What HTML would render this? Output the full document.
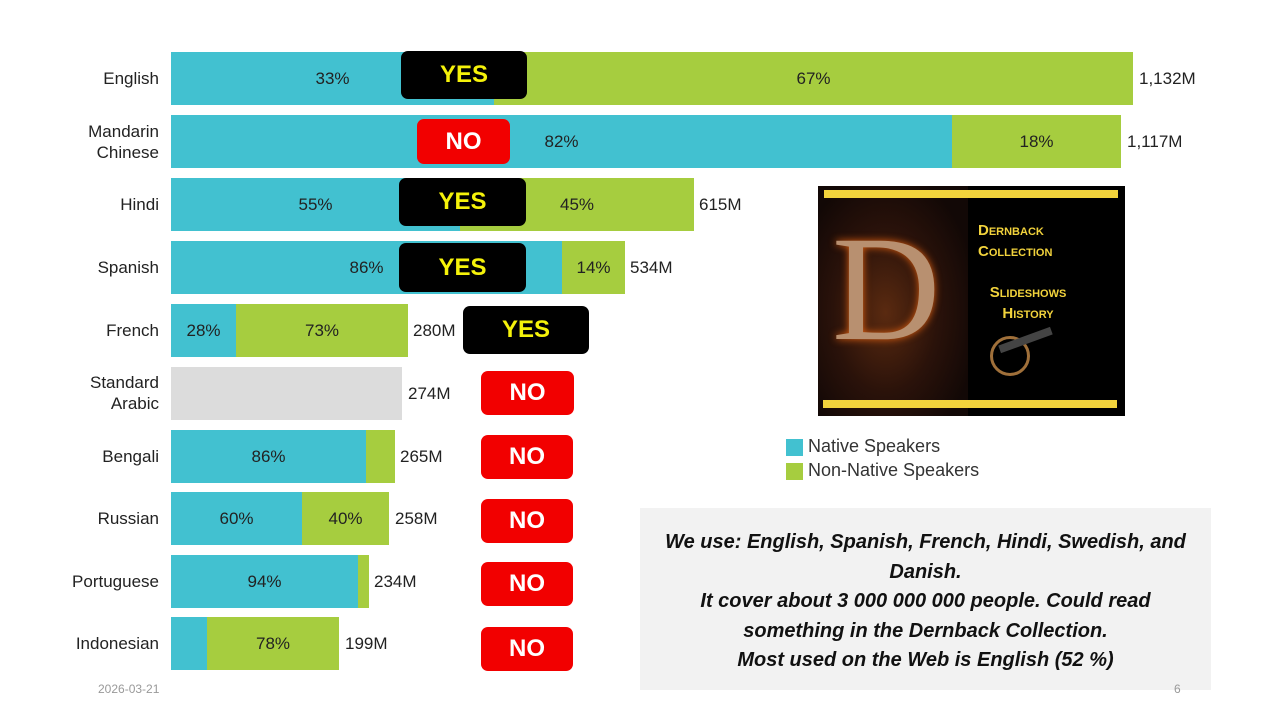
<!DOCTYPE html>
<html><head><style>
body{margin:0;width:1280px;height:720px;background:#fff;position:relative;overflow:hidden;font-family:"Liberation Sans",Arial,sans-serif}
.a{position:absolute}
.lab{position:absolute;right:1121px;width:120px;text-align:right;font-size:17px;color:#222;line-height:21px}
.seg{position:absolute;height:53px;display:flex;align-items:center;justify-content:center;font-size:17px;color:#222}
.c{background:#42c1d0}.g{background:#a6cd3f}
.v{position:absolute;font-size:17px;color:#222;height:53px;display:flex;align-items:center}
.b{position:absolute;border-radius:7px;display:flex;align-items:center;justify-content:center;font-weight:bold;font-size:24px}
.yes{background:#000;color:#f5f20a}.no{background:#f20000;color:#fff}
</style></head><body>
<div class="lab" style="top:68px">English</div>
<div class="lab" style="top:121px">Mandarin<br>Chinese</div>
<div class="lab" style="top:194px">Hindi</div>
<div class="lab" style="top:257px">Spanish</div>
<div class="lab" style="top:320px">French</div>
<div class="lab" style="top:372px">Standard<br>Arabic</div>
<div class="lab" style="top:446px">Bengali</div>
<div class="lab" style="top:508px">Russian</div>
<div class="lab" style="top:571px">Portuguese</div>
<div class="lab" style="top:633px">Indonesian</div>
<div class="seg c" style="left:171px;top:52px;width:323px">33%</div><div class="seg g" style="left:494px;top:52px;width:639px">67%</div><div class="v" style="left:1139px;top:52px">1,132M</div>
<div class="seg c" style="left:171px;top:115px;width:781px">82%</div><div class="seg g" style="left:952px;top:115px;width:169px">18%</div><div class="v" style="left:1127px;top:115px">1,117M</div>
<div class="seg c" style="left:171px;top:178px;width:289px">55%</div><div class="seg g" style="left:460px;top:178px;width:234px">45%</div><div class="v" style="left:699px;top:178px">615M</div>
<div class="seg c" style="left:171px;top:241px;width:391px">86%</div><div class="seg g" style="left:562px;top:241px;width:63px">14%</div><div class="v" style="left:630px;top:241px">534M</div>
<div class="seg c" style="left:171px;top:304px;width:65px">28%</div><div class="seg g" style="left:236px;top:304px;width:172px">73%</div><div class="v" style="left:413px;top:304px">280M</div>
<div class="seg" style="left:171px;top:367px;width:231px;background:#dcdcdc"></div><div class="v" style="left:408px;top:367px">274M</div>
<div class="seg c" style="left:171px;top:430px;width:195px">86%</div><div class="seg g" style="left:366px;top:430px;width:29px"></div><div class="v" style="left:400px;top:430px">265M</div>
<div class="seg c" style="left:171px;top:492px;width:131px">60%</div><div class="seg g" style="left:302px;top:492px;width:87px">40%</div><div class="v" style="left:395px;top:492px">258M</div>
<div class="seg c" style="left:171px;top:555px;width:187px">94%</div><div class="seg g" style="left:358px;top:555px;width:11px"></div><div class="v" style="left:374px;top:555px">234M</div>
<div class="seg c" style="left:171px;top:617px;width:36px"></div><div class="seg g" style="left:207px;top:617px;width:132px">78%</div><div class="v" style="left:345px;top:617px">199M</div>
<div class="b yes" style="left:401px;top:51px;width:126px;height:48px">YES</div>
<div class="b no" style="left:417px;top:119px;width:93px;height:45px">NO</div>
<div class="b yes" style="left:399px;top:178px;width:127px;height:48px">YES</div>
<div class="b yes" style="left:399px;top:243px;width:127px;height:49px">YES</div>
<div class="b yes" style="left:463px;top:306px;width:126px;height:48px">YES</div>
<div class="b no" style="left:481px;top:371px;width:93px;height:44px">NO</div>
<div class="b no" style="left:481px;top:435px;width:92px;height:44px">NO</div>
<div class="b no" style="left:481px;top:499px;width:92px;height:44px">NO</div>
<div class="b no" style="left:481px;top:562px;width:92px;height:44px">NO</div>
<div class="b no" style="left:481px;top:627px;width:92px;height:44px">NO</div>
<div class="a" style="left:818px;top:186px;width:307px;height:230px;background:#000">
 <div class="a" style="left:0;top:0;width:150px;height:230px;background:radial-gradient(ellipse at 45% 55%,#5a2a10 0%,#2a120a 45%,#120806 80%)"></div>
 <div class="a" style="left:6px;top:4px;width:294px;height:8px;background:#f2d33c"></div>
 <div class="a" style="left:5px;top:214px;width:294px;height:8px;background:#f2d33c"></div>
 <div class="a" style="left:14px;top:28px;font-family:'Liberation Serif',serif;font-size:150px;line-height:150px;color:#b89070;text-shadow:0 0 8px #e06010">D</div>
 <div class="a" style="left:160px;top:34px;color:#f2d33c;font-weight:bold;font-size:15px;font-variant:small-caps;line-height:21px">Dernback<br>Collection</div>
 <div class="a" style="left:160px;top:96px;color:#f2d33c;font-weight:bold;font-size:15px;font-variant:small-caps;line-height:21px;text-align:center;width:100px">Slideshows<br>History</div>
 <div class="a" style="left:172px;top:150px;width:34px;height:34px;border:3px solid #a0703a;border-radius:50%"></div>
 <div class="a" style="left:180px;top:150px;width:55px;height:8px;background:#444;transform:rotate(-20deg)"></div>
</div>
<div class="a" style="left:786px;top:439px;width:17px;height:17px;background:#42c1d0"></div>
<div class="a" style="left:808px;top:436px;font-size:18px;color:#333">Native Speakers</div>
<div class="a" style="left:786px;top:463px;width:17px;height:17px;background:#a6cd3f"></div>
<div class="a" style="left:808px;top:460px;font-size:18px;color:#333">Non-Native Speakers</div>
<div class="a" style="left:640px;top:508px;width:571px;height:182px;background:#f2f2f2"></div>
<div class="a" style="left:640px;top:528px;width:571px;text-align:center;font-weight:bold;font-style:italic;font-size:20px;line-height:29.5px;color:#111">We use: English, Spanish, French, Hindi, Swedish, and<br>Danish.<br>It cover about 3 000 000 000 people. Could read<br>something in the Dernback Collection.<br>Most used on the Web is English (52 %)</div>
<div class="a" style="left:98px;top:682px;font-size:12px;color:#999">2026-03-21</div>
<div class="a" style="left:1174px;top:682px;font-size:12px;color:#999">6</div>
</body></html>
